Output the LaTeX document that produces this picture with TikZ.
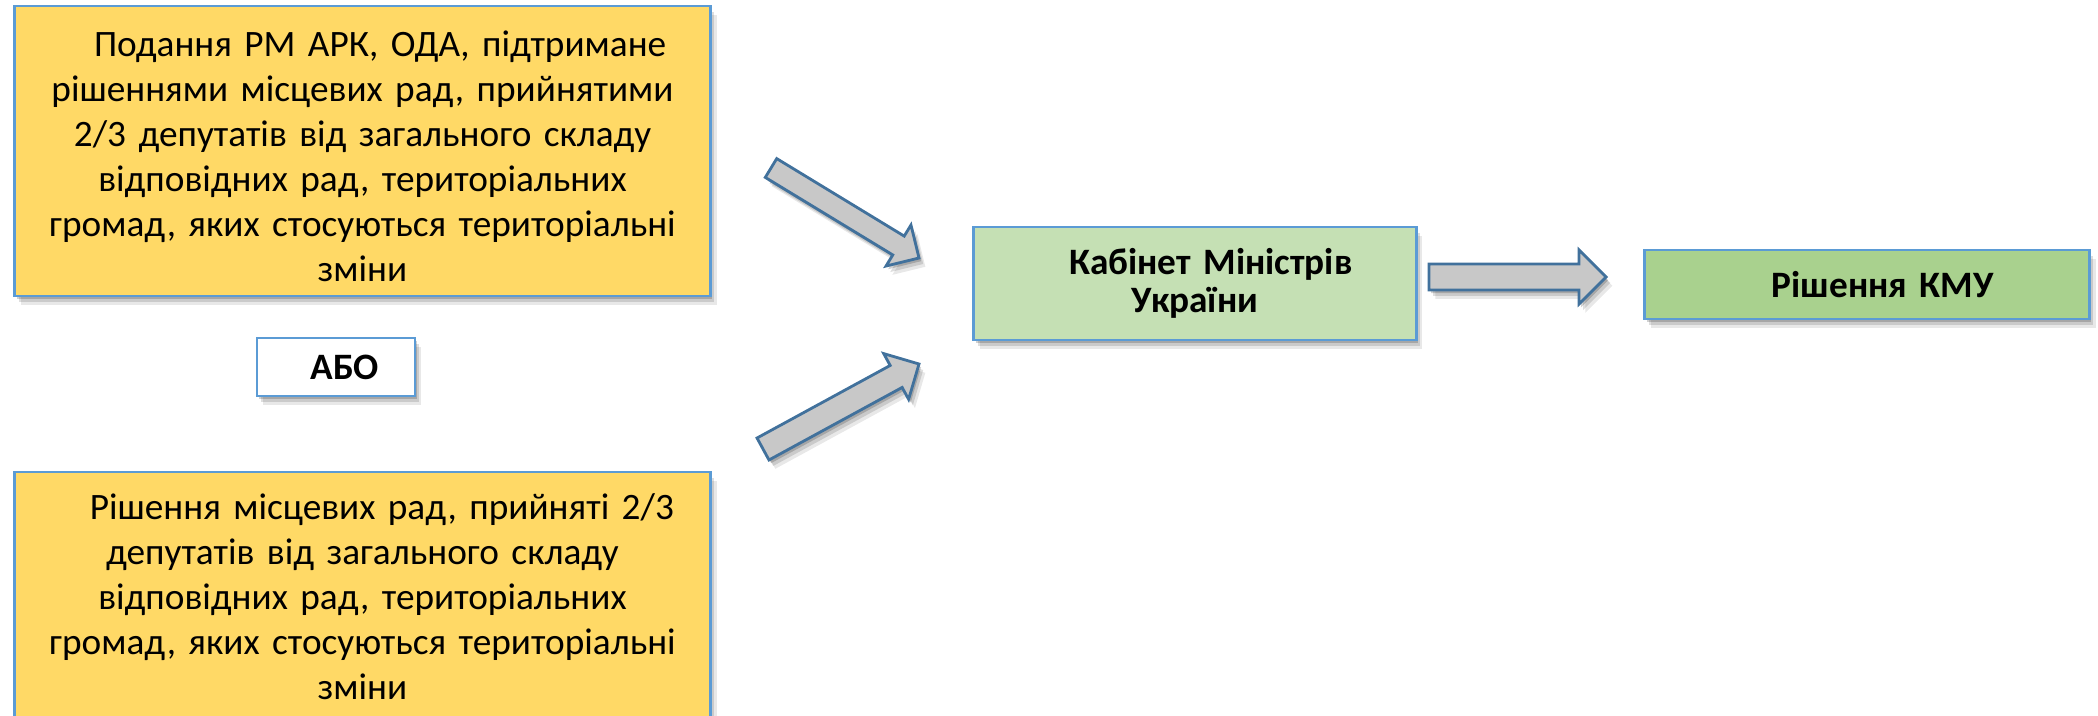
\documentclass[tikz,border=0pt]{standalone}
\usepackage{fontspec}
\setmainfont{Carlito}
\usetikzlibrary{calc,shadows}
\definecolor{boxblue}{HTML}{5B9BD5}
\definecolor{yel}{HTML}{FFD966}
\definecolor{lgreen}{HTML}{C5E0B4}
\definecolor{mgreen}{HTML}{A9D18E}
\definecolor{arrgray}{HTML}{C8C8C8}
\definecolor{arrblue}{HTML}{41719C}
\newcommand{\blockarr}[6]{%
  \coordinate (#6base) at ($(#2)!#5!(#1)$);
  \draw[blockarrow] ($(#1)!#3!90:(#2)$) -- ($(#6base)!#3!90:(#2)$) -- ($(#6base)!#4!90:(#2)$) -- (#2)
     -- ($(#6base)!#4!-90:(#2)$) -- ($(#6base)!#3!-90:(#2)$) -- ($(#1)!#3!-90:(#2)$) -- cycle;}
\tikzset{
  softshadow/.style={
    drop shadow={shadow xshift=0.6pt,shadow yshift=-0.9pt,fill=black,opacity=0.18},
    drop shadow={shadow xshift=1.2pt,shadow yshift=-1.7pt,fill=black,opacity=0.13},
    drop shadow={shadow xshift=1.8pt,shadow yshift=-2.5pt,fill=black,opacity=0.09}},
  box/.style={draw=boxblue, line width=0.8pt, inner sep=0pt, align=center, softshadow,
    font=\fontsize{10.6}{12.8}\selectfont},
  yellowbox/.style={box, fill=yel, minimum width=6.95cm, text width=6.85cm},
  blockarrow/.style={draw=arrblue, line width=0.8pt, fill=arrgray, line join=miter, softshadow},
}
\begin{document}
\begin{tikzpicture}[x=0.01cm,y=-0.01cm]
\useasboundingbox (0,0) rectangle (2098,715);
\clip (0,0) rectangle (2098,715);
\node[yellowbox, minimum height=2.9cm] (top) at (362.5,151)
  {\rule{0pt}{10.3pt}\hspace*{10pt}Подання РМ АРК, ОДА, підтримане\\
   рішеннями місцевих рад, прийнятими\\
   2/3 депутатів від загального складу\\
   відповідних рад, територіальних\\
   громад, яких стосуються територіальні\\
   зміни};
\node[box, fill=white, minimum width=1.58cm, minimum height=0.58cm, font=\fontsize{10.6}{12.8}\selectfont\bfseries] (or) at (336,367)
  {\hspace*{5pt}АБО};
\node[yellowbox, minimum height=2.5cm] (bottom) at (362.5,597)
  {\hspace*{11pt}Рішення місцевих рад, прийняті 2/3\\
   депутатів від загального складу\\
   відповідних рад, територіальних\\
   громад, яких стосуються територіальні\\
   зміни};
\node[box, fill=lgreen, minimum width=4.42cm, minimum height=1.13cm, text width=4.3cm,
  font=\fontsize{10.6}{10.8}\selectfont\bfseries] (kmu) at (1195,283.5)
  {\hspace*{9pt}Кабінет Міністрів\\ України};
\node[box, fill=mgreen, minimum width=4.44cm, minimum height=0.69cm, text width=4.3cm,
  font=\fontsize{10.6}{12.8}\selectfont\bfseries] (res) at (1867,284.5)
  {\hspace*{9pt}Рішення КМУ};
\coordinate (t1) at (771,168);
\coordinate (h1) at (919,258);
\coordinate (t2) at (763,449);
\coordinate (h2) at (919,364);
\coordinate (t3) at (1429,277);
\coordinate (h3) at (1606,277);
\blockarr{t1}{h1}{0.11cm}{0.24cm}{0.24cm}{a}
\blockarr{t2}{h2}{0.125cm}{0.26cm}{0.26cm}{b}
\blockarr{t3}{h3}{0.13cm}{0.27cm}{0.27cm}{c}
\end{tikzpicture}
\end{document}
